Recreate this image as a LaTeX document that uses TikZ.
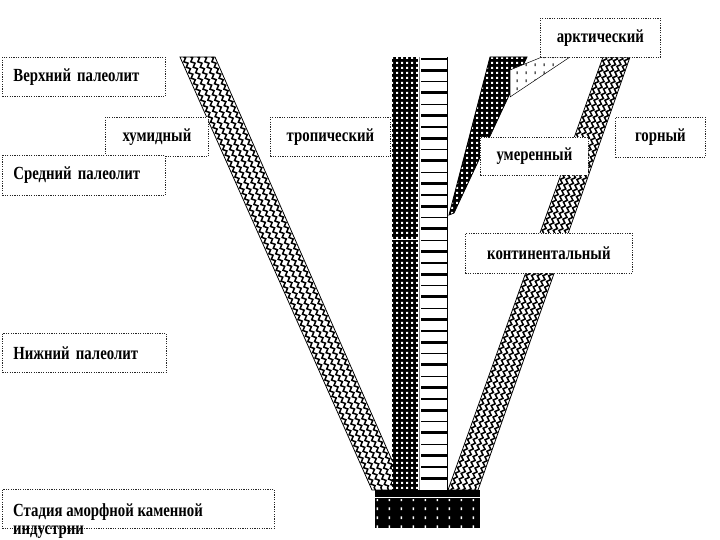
\documentclass[tikz,border=0pt]{standalone}
\usepackage{fontspec}
\setmainfont{Liberation Serif}[FakeStretch=0.8]
\usetikzlibrary{patterns,calc,decorations.pathmorphing}
\pgfdeclarepatternformonly{wdots}{\pgfpointorigin}{\pgfpoint{5pt}{5pt}}{\pgfpoint{5pt}{5pt}}{\pgfpathrectangle{\pgfpoint{1.2pt}{1.2pt}}{\pgfpoint{2.4pt}{2.4pt}}\pgfusepath{fill}}
\pgfdeclarepatternformonly{sparsedash}{\pgfpointorigin}{\pgfpoint{9pt}{8pt}}{\pgfpoint{9pt}{8pt}}{\pgfpathrectangle{\pgfpoint{4pt}{2pt}}{\pgfpoint{1pt}{3pt}}\pgfusepath{fill}}
\pgfdeclarepatternformonly{blockdots}{\pgfpointorigin}{\pgfpoint{12pt}{9pt}}{\pgfpoint{12pt}{9pt}}{\pgfpathrectangle{\pgfpoint{5pt}{3pt}}{\pgfpoint{1.5pt}{3pt}}\pgfusepath{fill}}
\begin{document}
\begin{tikzpicture}[x=1pt,y=-1pt,
  box/.style={draw=black!85, line width=0.8pt, dash pattern=on 1.2pt off 1.2pt, fill=white, inner sep=0pt,
    font=\fontsize{18.5}{18}\selectfont\bfseries},
  lbox/.style={box, anchor=north west, align=left},
  cbox/.style={box, anchor=north west, align=center},
  bandedge/.style={draw=black, line width=0.8pt},
  hatchwave/.style={line width=1.5pt, decorate, decoration={zigzag, segment length=6pt, amplitude=1.6pt}},
  hatchthin/.style={line width=0.5pt}
]
\useasboundingbox (0,0) rectangle (720,540);

% left band (humid)
\coordinate (L1) at (180,57); \coordinate (L2) at (215,57);
\coordinate (L3) at (405,490); \coordinate (L4) at (372,490);
\fill[white] (L1)--(L2)--(L3)--(L4)--cycle;
\begin{scope}
\clip (L1)--(L2)--(L3)--(L4)--cycle;
\foreach \f in {0.1,0.3,0.5,0.7,0.9}
  \draw[hatchwave] ($(L1)!\f!(L2)$) -- ($(L4)!\f!(L3)$);
\end{scope}
\draw[bandedge] (L1)--(L2)--(L3)--(L4)--cycle;

% right band (mountain)
\coordinate (R1) at (603,57); \coordinate (R2) at (630,57);
\coordinate (R3) at (478,490); \coordinate (R4) at (448,490);
\fill[white] (R1)--(R2)--(R3)--(R4)--cycle;
\begin{scope}
\clip (R1)--(R2)--(R3)--(R4)--cycle;
\foreach \f in {0.1,0.3,0.5,0.7,0.9}
  \draw[hatchwave] ($(R1)!\f!(R2)$) -- ($(R4)!\f!(R3)$);
\end{scope}
\draw[bandedge] (R1)--(R2)--(R3)--(R4)--cycle;

% dotted column (tropical)
\fill[black] (392,57) rectangle (418,490);
\fill[pattern=wdots, pattern color=white] (392,57) rectangle (418,490);
\draw[white, line width=1pt] (392,239) -- (418,239);
\draw[black!45, line width=1.6pt] (419.5,57) -- (419.5,490);

% horizontal-lines column
\fill[white] (421,57) rectangle (447,490);
\draw[black, line width=0.6pt] (447,57) -- (447,490);
\foreach \i in {0,2,...,36}
  \draw[line width=1.4pt] (421,{59+11.33*\i}) -- (447,{59+11.33*\i});
\foreach \i in {1,3,...,37}
  \draw[line width=3pt] (421,{59+11.33*\i}) -- (447,{59+11.33*\i});

% temperate band
\coordinate (D1) at (490,57); \coordinate (D2) at (527,57);
\coordinate (D3) at (454,213); \coordinate (D4) at (449,215);
\fill[black] (D1)--(D2)--(D3)--(D4)--cycle;
\fill[pattern=wdots, pattern color=white] (D1)--(D2)--(D3)--(D4)--cycle;
\draw[bandedge] (D1)--(D2)--(D3)--(D4)--cycle;

% arctic band
\coordinate (A1) at (510,70); \coordinate (A2) at (542,57);
\coordinate (A3) at (570,57); \coordinate (A4) at (510,97);
\fill[white] (A1)--(A2)--(A3)--(A4)--cycle;
\fill[pattern=sparsedash, pattern color=black] (A1)--(A2)--(A3)--(A4)--cycle;
\draw[bandedge, line width=0.5pt] (A1)--(A2)--(A3)--(A4)--cycle;

% bottom block
\fill[black] (375,490) rectangle (480,528);
\fill[pattern=blockdots, pattern color=white] (375,499) rectangle (480,528);
\draw[white, line width=0.8pt] (375,497) -- (480,497);

% boxes
\node[lbox, minimum width=163, minimum height=39, text width=141] (vp) at (2,57) {Верхний палеолит};
\node[cbox, minimum width=103, minimum height=39] (hum) at (105,117) {хумидный};
\node[lbox, minimum width=163, minimum height=40, text width=141] (sp) at (2,155) {Средний палеолит};
\node[cbox, minimum width=120, minimum height=39] (trop) at (270,117) {тропический};
\node[lbox, minimum width=164, minimum height=39, text width=142] (np) at (2,333) {Нижний палеолит};
\node[box, anchor=north west, minimum width=272, minimum height=39] (st) at (2,489) {};
\node[anchor=north west, inner sep=0pt, align=left, font=\fontsize{18.5}{18}\selectfont\bfseries] (sttext) at (13,503) {Стадия аморфной каменной\\индустрии};
\node[cbox, minimum width=120, minimum height=39] (arc) at (540,18) {арктический};
\node[cbox, minimum width=108, minimum height=38] (um) at (480,137) {умеренный};
\node[cbox, minimum width=90, minimum height=40] (gor) at (615,117) {горный};
\node[cbox, minimum width=167, minimum height=40] (cont) at (465,233) {континентальный};
\end{tikzpicture}
\end{document}
